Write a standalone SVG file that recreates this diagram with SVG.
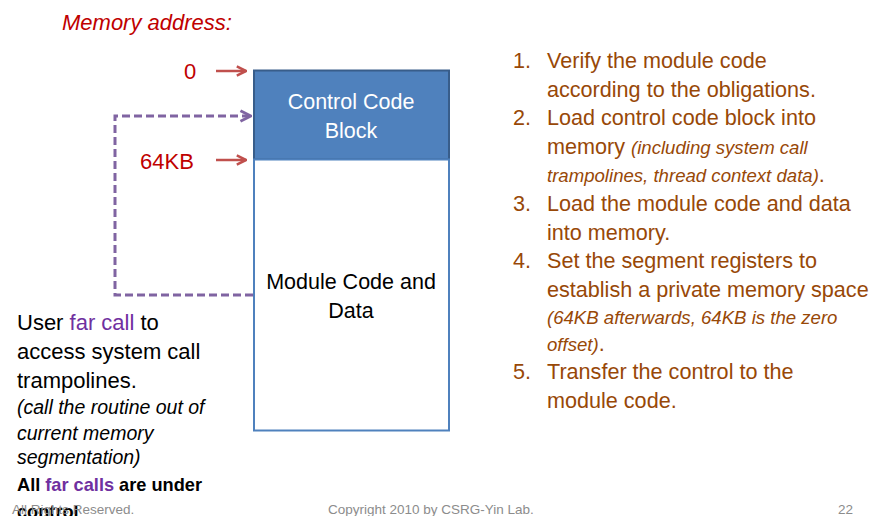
<svg xmlns="http://www.w3.org/2000/svg" width="875" height="516" viewBox="0 0 875 516">
<style>
text{font-family:"Liberation Sans",Arial,sans-serif}
.red{fill:#C00000;font-size:22px}
.list{fill:#984807;font-size:21.6px}
.li{font-style:italic;font-size:18.6px}
.blk{fill:#000;font-size:22px}
.pur{fill:#7030A0}
.foot{fill:#8C8C8C;font-size:13.5px}
.ra{stroke:#C0504D;stroke-width:2.5;fill:none;marker-end:url(#mr)}
</style>
<defs>
<marker id="mr" viewBox="0 0 10 10" refX="9" refY="5" markerWidth="4.6" markerHeight="4.6" orient="auto" markerUnits="strokeWidth">
<path d="M1,1 L9,5 L1,9" fill="none" stroke="#C0504D" stroke-width="2.2"/>
</marker>
<marker id="mp" viewBox="0 0 10 10" refX="9" refY="5" markerWidth="4.4" markerHeight="4.4" orient="auto" markerUnits="strokeWidth">
<path d="M1,1 L9,5 L1,9" fill="none" stroke="#8064A2" stroke-width="2.2"/>
</marker>
</defs>
<rect width="875" height="516" fill="#fff"/>

<text x="62" y="30" class="red" font-style="italic" font-size="21.5">Memory address:</text>

<g id="addr0"><text x="184" y="79" class="red" font-size="22.5">0</text></g>
<g id="addr64"><text x="140" y="169" class="red">64KB</text></g>

<g id="control-block">
<rect x="254" y="70.5" width="195" height="89" fill="#4F81BD" stroke="#385D8A" stroke-width="2"/>
<text x="351" y="109" text-anchor="middle" fill="#fff" font-size="21.5">Control Code</text>
<text x="351" y="138" text-anchor="middle" fill="#fff" font-size="21.5">Block</text>
</g>
<g id="module-block">
<rect x="254" y="159.5" width="195" height="271" fill="#fff" stroke="#4F81BD" stroke-width="2"/>
<text x="351" y="289" text-anchor="middle" fill="#000" font-size="21.5">Module Code and</text>
<text x="351" y="318" text-anchor="middle" fill="#000" font-size="21.5">Data</text>
</g>

<g id="connectors">
<line x1="216" y1="71" x2="246" y2="71" class="ra"/>
<line x1="216" y1="160" x2="246" y2="160" class="ra"/>
<path d="M253,295 H115 V116 H251" fill="none" stroke="#8064A2" stroke-width="3" stroke-dasharray="8,4" marker-end="url(#mp)"/>
</g>

<g id="left-note">
<text x="17" y="330" class="blk">User <tspan class="pur">far call</tspan> to</text>
<text x="17" y="359" class="blk">access system call</text>
<text x="17" y="388" class="blk">trampolines.</text>
<text x="17" y="414" font-style="italic" font-size="19.5" fill="#000">(call the routine out of</text>
<text x="17" y="440" font-style="italic" font-size="19.5" fill="#000">current memory</text>
<text x="17" y="464" font-style="italic" font-size="19.5" fill="#000">segmentation)</text>
<text x="17" y="491" font-weight="bold" font-size="18.2" fill="#000">All <tspan class="pur">far calls</tspan> are under</text>
<text x="17" y="518" font-weight="bold" font-size="18.2" fill="#000">control</text>
</g>

<g id="steps" class="list">
<text x="513" y="68" class="list">1.</text>
<text x="547" y="68" class="list">Verify the module code</text>
<text x="547" y="97" class="list">according to the obligations.</text>
<text x="513" y="125" class="list">2.</text>
<text x="547" y="125" class="list">Load control code block into</text>
<text x="547" y="154" class="list">memory <tspan class="li">(including system call</tspan></text>
<text x="547" y="182" class="list"><tspan class="li">trampolines, thread context data)</tspan>.</text>
<text x="513" y="211" class="list">3.</text>
<text x="547" y="211" class="list">Load the module code and data</text>
<text x="547" y="240" class="list">into memory.</text>
<text x="513" y="268" class="list">4.</text>
<text x="547" y="268" class="list">Set the segment registers to</text>
<text x="547" y="297" class="list">establish a private memory space</text>
<text x="547" y="324" class="list"><tspan class="li">(64KB afterwards, 64KB is the zero</tspan></text>
<text x="547" y="351" class="list"><tspan class="li">offset)</tspan>.</text>
<text x="513" y="379" class="list">5.</text>
<text x="547" y="379" class="list">Transfer the control to the</text>
<text x="547" y="408" class="list">module code.</text>
</g>

<g id="footer">
<text x="12" y="514" class="foot">All Rights Reserved.</text>
<text x="328" y="514" class="foot">Copyright 2010 by CSRG-Yin Lab.</text>
<text x="838" y="514" class="foot">22</text>
</g>
</svg>
